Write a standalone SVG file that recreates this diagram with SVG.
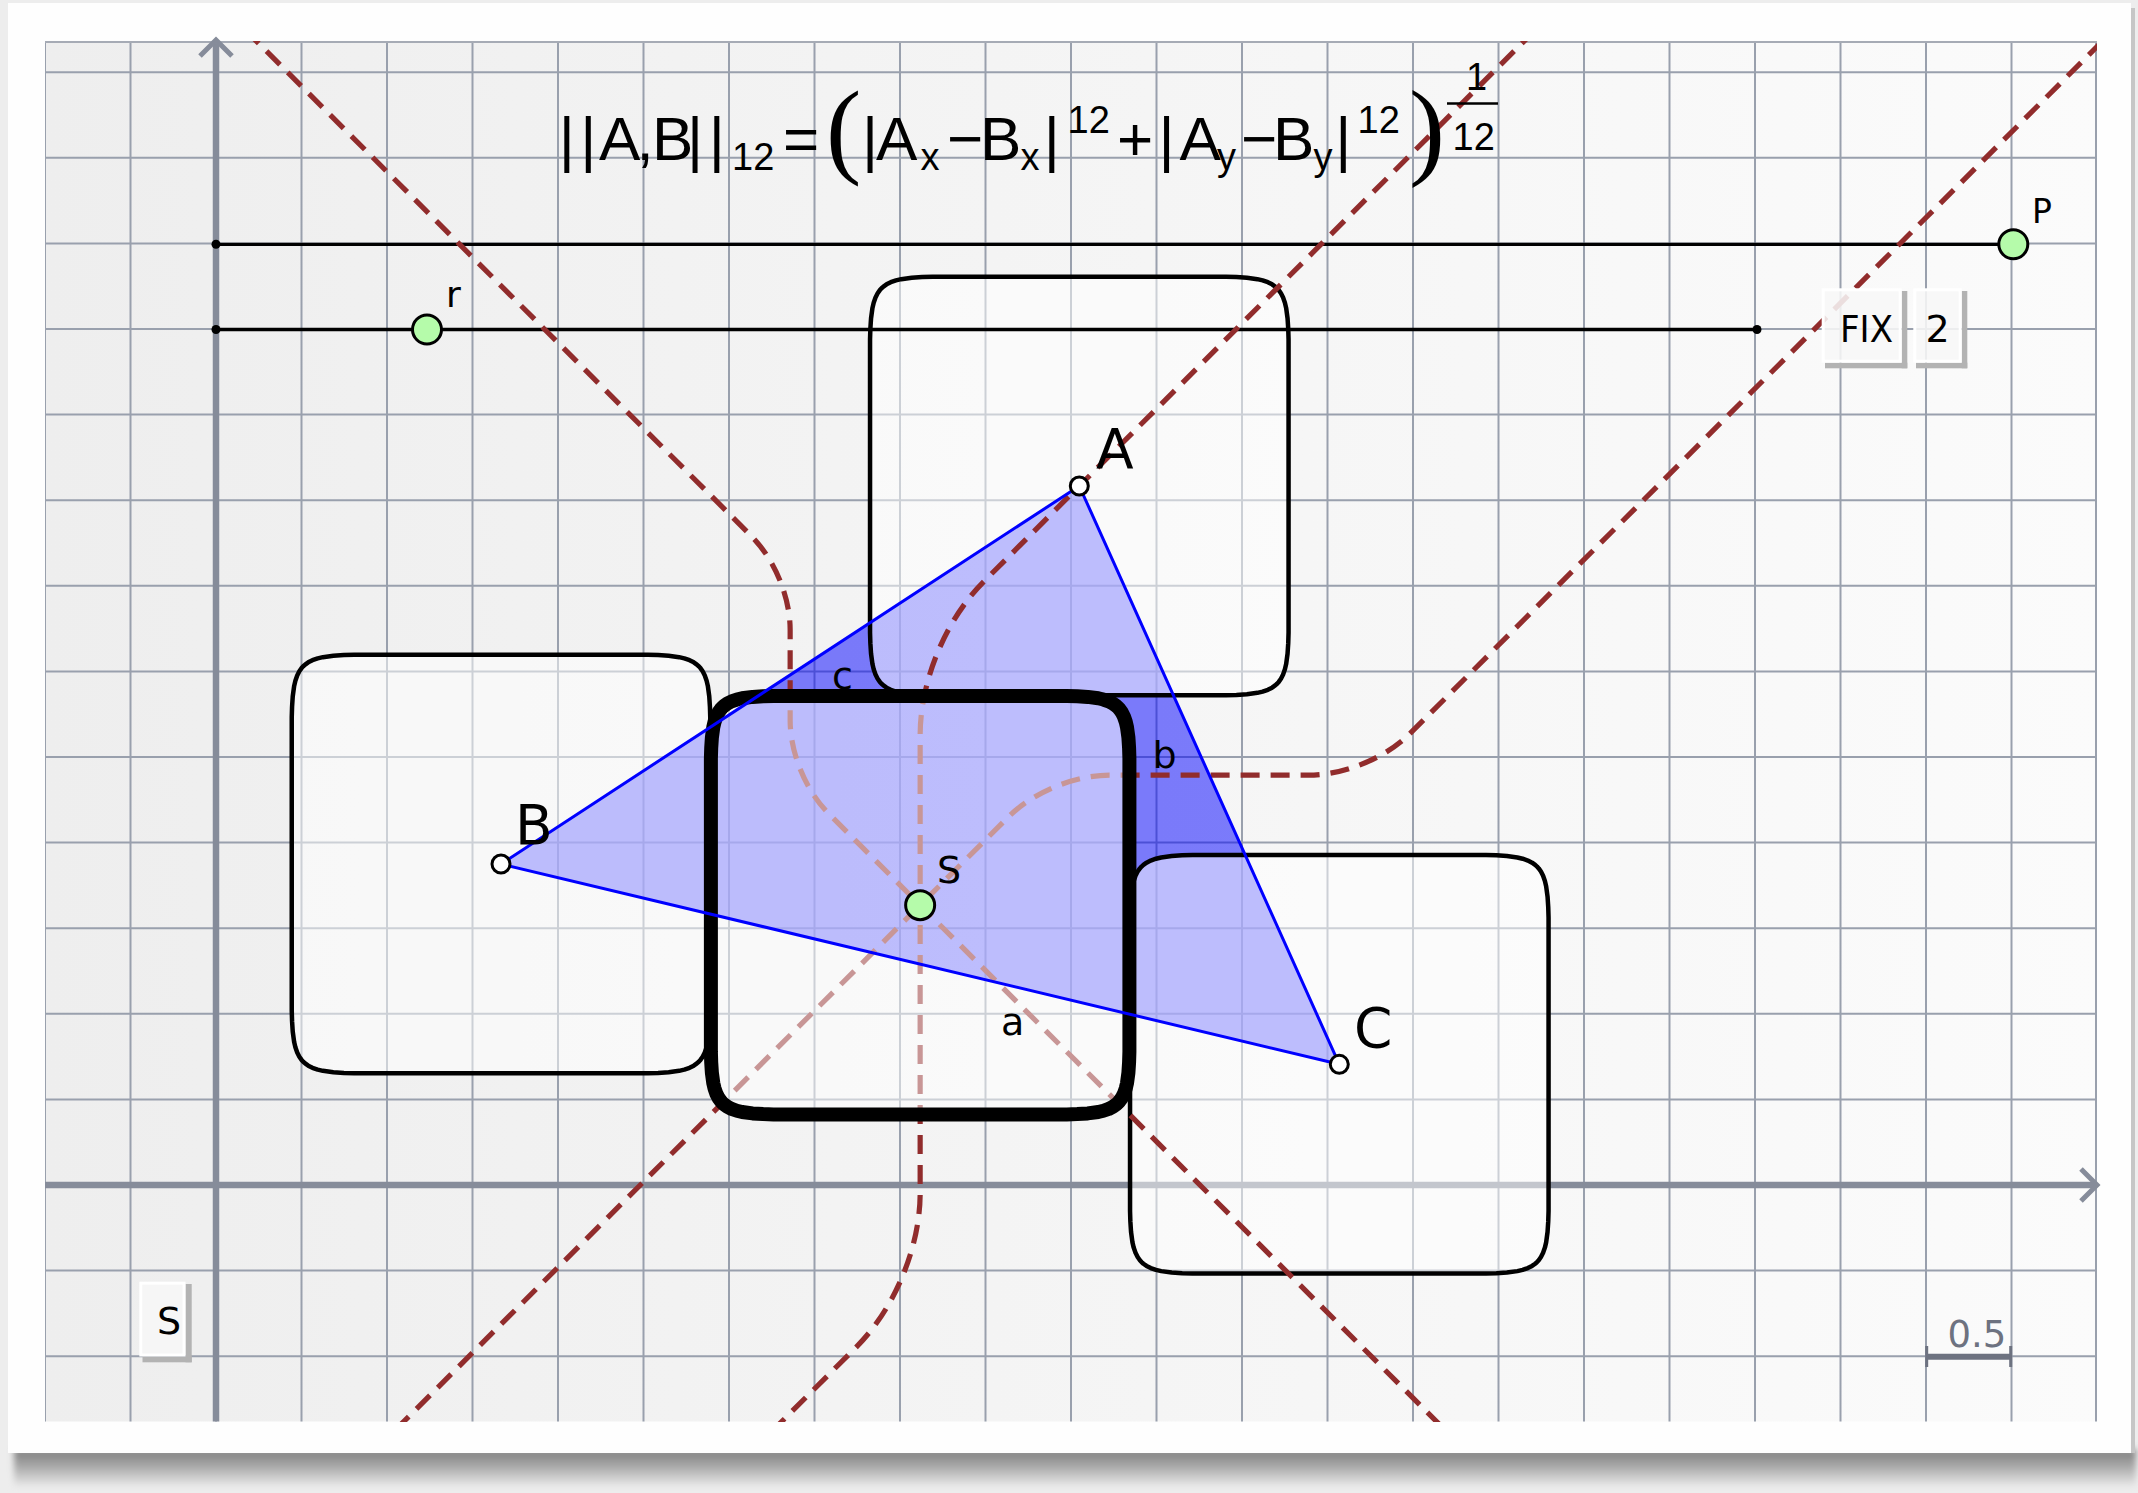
<svg xmlns="http://www.w3.org/2000/svg" width="2138" height="1493" viewBox="0 0 2138 1493">
<defs>
<linearGradient id="plotbg" x1="0" y1="0" x2="1" y2="0"><stop offset="0" stop-color="#eeeeee"/><stop offset="1" stop-color="#fbfbfb"/></linearGradient>
<linearGradient id="shadowg" x1="0" y1="0" x2="0" y2="1"><stop offset="0" stop-color="#7c7c7c"/><stop offset="0.45" stop-color="#a8a8a8"/><stop offset="1" stop-color="#ebebeb"/></linearGradient>
<filter id="blur" x="-5%" y="-60%" width="110%" height="220%"><feGaussianBlur stdDeviation="3"/></filter>
<clipPath id="plotclip"><rect x="45" y="41" width="2052" height="1381"/></clipPath>
<path id="sq" d="M209.26,-146.65 L208.94,-157.13 L208.26,-167.6 L206.84,-178.08 L205.61,-183.31 L203.79,-188.55 L201.65,-192.74 L199.43,-195.88 L197.75,-197.75 L195.88,-199.43 L192.74,-201.65 L188.55,-203.79 L183.31,-205.61 L178.08,-206.84 L167.6,-208.26 L157.13,-208.94 L146.65,-209.26 L-146.65,-209.26 L-157.13,-208.94 L-167.6,-208.26 L-178.08,-206.84 L-183.31,-205.61 L-188.55,-203.79 L-192.74,-201.65 L-195.88,-199.43 L-197.75,-197.75 L-199.43,-195.88 L-201.65,-192.74 L-203.79,-188.55 L-205.61,-183.31 L-206.84,-178.08 L-208.26,-167.6 L-208.94,-157.13 L-209.26,-146.65 L-209.26,146.65 L-208.94,157.13 L-208.26,167.6 L-206.84,178.08 L-205.61,183.31 L-203.79,188.55 L-201.65,192.74 L-199.43,195.88 L-197.75,197.75 L-195.88,199.43 L-192.74,201.65 L-188.55,203.79 L-183.31,205.61 L-178.08,206.84 L-167.6,208.26 L-157.13,208.94 L-146.65,209.26 L146.65,209.26 L157.13,208.94 L167.6,208.26 L178.08,206.84 L183.31,205.61 L188.55,203.79 L192.74,201.65 L195.88,199.43 L197.75,197.75 L199.43,195.88 L201.65,192.74 L203.79,188.55 L205.61,183.31 L206.84,178.08 L208.26,167.6 L208.94,157.13 L209.26,146.65 Z"/>
</defs>
<style>
.gridl{stroke:#99a0ad;stroke-width:2;fill:none}
.axis{stroke:#868c9a;stroke-width:6.5;fill:none}
.arrow{stroke:#868c9a;stroke-width:5;fill:none}
.sq{fill:#ffffff;fill-opacity:0.5;stroke:#000;stroke-width:4.5;stroke-linejoin:round}
.sqS{fill:#ffffff;fill-opacity:0.5;stroke:#000;stroke-width:14;stroke-linejoin:round}
.bis{fill:none;stroke:#912c2c;stroke-width:5.2;stroke-dasharray:19 11}
.edge{stroke:#0000ff;stroke-width:3;fill:none;stroke-linejoin:round}
.fm{font-family:"Liberation Sans",Arial,sans-serif;fill:#000}
.par{font-family:"Liberation Serif","Times New Roman",serif}
.lbl{font-family:"DejaVu Sans","Liberation Sans",sans-serif;fill:#000}
.pt{fill:#ffffff;stroke:#000;stroke-width:3}
.gpt{fill:#b5fbaa;stroke:#000;stroke-width:3}
.slider{stroke:#000;stroke-width:3.3}
.btn{fill:#f7f7f7;fill-opacity:0.88;stroke:#ffffff;stroke-width:3}
.btnsh{fill:#b3b3b3}
</style>

<g id="frame">
<rect width="2138" height="1493" fill="#ededed"/>
<rect x="14" y="1449" width="2122" height="38" fill="url(#shadowg)" filter="url(#blur)"/>
<rect x="2128" y="8" width="7" height="1445" fill="#c6c6c6"/>
<rect x="8" y="3" width="2123" height="1450" fill="#fefefe"/>
<rect x="45" y="41" width="2052" height="1380.5" fill="url(#plotbg)"/>
</g>

<g id="grid" clip-path="url(#plotclip)">
<path class="gridl" d="M45,41V1421.5M130.5,41V1421.5M216,41V1421.5M301.5,41V1421.5M387,41V1421.5M472.5,41V1421.5M558,41V1421.5M643.5,41V1421.5M729,41V1421.5M814.5,41V1421.5M900,41V1421.5M985.5,41V1421.5M1071,41V1421.5M1156.5,41V1421.5M1242,41V1421.5M1327.5,41V1421.5M1413,41V1421.5M1498.5,41V1421.5M1584,41V1421.5M1669.5,41V1421.5M1755,41V1421.5M1840.5,41V1421.5M1926,41V1421.5M2011.5,41V1421.5M2096,41V1421.5"/>
<path class="gridl" d="M45,1356.2H2097M45,1270.6H2097M45,1099.4H2097M45,1013.8H2097M45,928.2H2097M45,842.6H2097M45,757H2097M45,671.4H2097M45,585.8H2097M45,500.2H2097M45,414.6H2097M45,329H2097M45,243.4H2097M45,157.8H2097M45,72.2H2097"/>
<line x1="45" y1="41.5" x2="2097" y2="41.5" stroke="#a6abb5" stroke-width="3"/>
</g>

<g id="axes">
<line class="axis" x1="216" y1="44" x2="216" y2="1421.5"/>
<line class="axis" x1="45" y1="1185" x2="2094" y2="1185"/>
<polyline class="arrow" points="200,56 216,40 232,56"/>
<polyline class="arrow" points="2081,1169 2097,1185 2081,1201"/>
</g>

<g id="triangle-fill">
<polygon points="1079.3,486 501,864 1339.3,1064.3" fill="#0000ff" fill-opacity="0.5"/>
</g>

<g id="square-A"><use href="#sq" class="sq" transform="translate(1079.3,486)"/></g>
<g id="square-B"><use href="#sq" class="sq" transform="translate(501,864)"/></g>
<g id="square-C"><use href="#sq" class="sq" transform="translate(1339.3,1064.3)"/></g>

<g id="sliders">
<line class="slider" x1="216" y1="244.3" x2="2013" y2="244.3"/>
<line class="slider" x1="216" y1="329.5" x2="1757" y2="329.5"/>
<circle cx="216" cy="244.3" r="4.5" fill="#000"/>
<circle cx="216" cy="329.5" r="4.5" fill="#000"/>
<circle cx="1757" cy="329.5" r="4.5" fill="#000"/>
</g>

<g id="connectors" clip-path="url(#plotclip)">
<path id="bisector-AB" class="bis" d="M245.3,30 L751.26,535.96 C774.59,559.29 790.15,596.85 790.15,629.85 L790.15,720.15 C790.15,753.15 805.71,790.71 829.04,814.04 L1445,1430"/>
<path id="bisector-AC" class="bis" d="M395.3,1430 L1007.72,817.58 C1033.18,792.12 1074.15,775.15 1110.15,775.15 L1308.45,775.15 C1344.45,775.15 1385.42,758.18 1410.88,732.72 L2113.6,30"/>
<path id="bisector-BC" class="bis" d="M1535.3,30 L983.79,581.51 C945.61,619.69 920.15,681.15 920.15,735.15 L920.15,1193.15 C920.15,1247.15 894.69,1308.61 856.51,1346.79 L773.3,1430"/>
</g>

<g id="square-S"><use href="#sq" class="sqS" transform="translate(920.15,905.15)"/></g>

<g id="triangle-edges">
<polygon class="edge" points="1079.3,486 501,864 1339.3,1064.3"/>
<text class="lbl" x="1001" y="1035" font-size="38">a</text>
<text class="lbl" x="1152.5" y="768" font-size="38">b</text>
<text class="lbl" x="832" y="689" font-size="38">c</text>
</g>

<g id="formula">
<text class="fm"><tspan x="558.7 580.3 599 636.5 652 687 708.7" y="160" font-size="62">||A,B||</tspan><tspan x="732" y="170" font-size="38">12</tspan><tspan x="783" y="160" font-size="62">=</tspan><tspan class="par" x="826" y="164" font-size="106">(</tspan><tspan x="862 876" y="160" font-size="62">|A</tspan><tspan x="920.5" y="170" font-size="38">x</tspan><tspan x="947 980" y="160" font-size="62">−B</tspan><tspan x="1020.5" y="170" font-size="38">x</tspan><tspan x="1043.7" y="160" font-size="62">|</tspan><tspan x="1067.5" y="133.3" font-size="38">12</tspan><tspan x="1117 1158.6 1179.5" y="160" font-size="62">+|A</tspan><tspan x="1217" y="170" font-size="38">y</tspan><tspan x="1241 1273" y="160" font-size="62">−B</tspan><tspan x="1313.5" y="170" font-size="38">y</tspan><tspan x="1335.3" y="160" font-size="62">|</tspan><tspan x="1357.5" y="133.3" font-size="38">12</tspan><tspan class="par" x="1409" y="165" font-size="108">)</tspan><tspan x="1466" y="90" font-size="38">1</tspan><tspan x="1452.5" y="150" font-size="38">12</tspan></text>
<line x1="1447" y1="103.5" x2="1498" y2="103.5" stroke="#000" stroke-width="2.5"/>
</g>

<g id="button-FIX">
<rect class="btnsh" x="1901.7" y="291" width="5.6" height="77.3"/>
<rect class="btnsh" x="1825" y="362.7" width="82.3" height="5.6"/>
<rect class="btn" x="1823.2" y="289.8" width="77" height="71.4"/>
<text class="lbl" x="1840" y="341.7" font-size="38" textLength="53" lengthAdjust="spacingAndGlyphs">FIX</text>
</g>
<g id="button-2">
<rect class="btnsh" x="1961.7" y="291" width="5.6" height="77.3"/>
<rect class="btnsh" x="1916" y="362.7" width="51.3" height="5.6"/>
<rect class="btn" x="1914.8" y="289.8" width="45.4" height="71.4"/>
<text class="lbl" x="1925.5" y="341.7" font-size="38">2</text>
</g>
<g id="button-S">
<rect class="btnsh" x="185.5" y="1284" width="6.2" height="78.3"/>
<rect class="btnsh" x="142.5" y="1356.5" width="49.2" height="5.8"/>
<rect class="btn" x="140.8" y="1283.2" width="43.2" height="71.8"/>
<text class="lbl" x="157" y="1334.3" font-size="38">S</text>
</g>

<g id="point-P"><circle class="gpt" cx="2013.3" cy="244.3" r="14.5"/><text class="lbl" x="2032" y="223.3" font-size="33">P</text></g>
<g id="point-r"><circle class="gpt" cx="427" cy="329.5" r="14.5"/><text class="lbl" x="446" y="307" font-size="36">r</text></g>
<g id="point-A"><circle class="pt" cx="1079.3" cy="486" r="9"/><text class="lbl" x="1096" y="468.3" font-size="55">A</text></g>
<g id="point-B"><circle class="pt" cx="501" cy="864" r="9"/><text class="lbl" x="515" y="844" font-size="55">B</text></g>
<g id="point-C"><circle class="pt" cx="1339.3" cy="1064.3" r="9"/><text class="lbl" x="1354" y="1046.7" font-size="55">C</text></g>
<g id="point-S"><circle class="gpt" cx="920.15" cy="905.15" r="14.5"/><text class="lbl" x="937" y="882.7" font-size="38">S</text></g>

<g id="scale-bar">
<path d="M1926.7,1356.7H2010.7" stroke="#6d7280" stroke-width="6"/>
<path d="M1926.7,1346V1367M2010.7,1346V1367" stroke="#6d7280" stroke-width="3"/>
<text class="lbl" x="1947.5" y="1346.7" font-size="37" style="fill:#6d7280">0.5</text>
</g>
</svg>
